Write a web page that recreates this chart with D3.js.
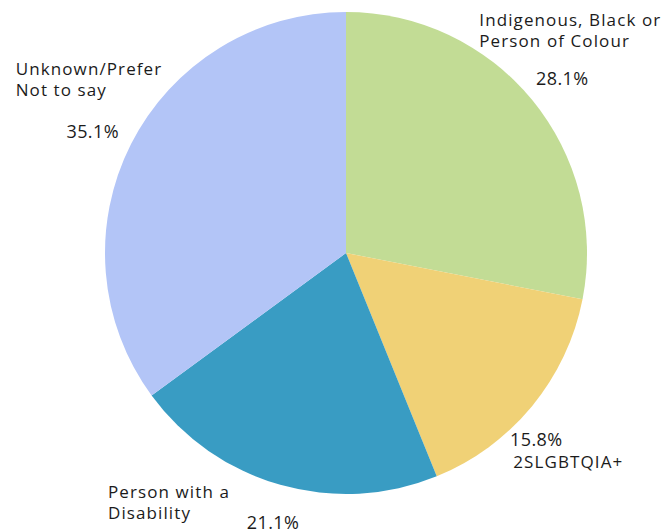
<!DOCTYPE html>
<html>
<head>
<meta charset="utf-8">
<script src="https://cdn.jsdelivr.net/npm/d3@7"></script>
<style>
  body { margin: 0; background: #fff; }
  text { font-family: "Open Sans", sans-serif; fill: #1b1b1b; }
</style>
</head>
<body>
<div class="pie"></div>
<script>
// data
const categories = ["Indigenous, Black or Person of Colour", "2SLGBTQIA+", "Person with a Disability", "Unknown/Prefer Not to say"];
const values = [28.1, 15.8, 21.1, 35.1];
const labelLines = [["Indigenous, Black or", "Person of Colour"], ["2SLGBTQIA+"], ["Person with a", "Disability"], ["Unknown/Prefer", "Not to say"]];
const colors = ["#c2dc95", "#f0d176", "#399cc3", "#b3c5f7"];

const width = 671;
const height = 529;
const cx = 346, cy = 253, radius = 241;

// label placement tweaks (percent offset from label arc, name block offset from percent)
const pctShift = [[4, 0], [-22, 12], [2, 5], [-8, 3]];
const nameShift = [[-83, -52, "start"], [-23, 28, "start"], [-165, -25, "start"], [-77, -57, "start"]];

const data = categories.map((c, i) => ({ name: c, value: values[i], lines: labelLines[i], color: colors[i], i: i }));

const svg = d3.select('.pie').append('svg')
    .attr('width', width)
    .attr('height', height);

const graph = svg.append('g')
    .attr('transform', `translate(${cx},${cy})`);

const pie = d3.pie()
    .sort(null)
    .value(d => d.value);

const arcPath = d3.arc()
    .innerRadius(0)
    .outerRadius(radius);

const labelArc = d3.arc()
    .innerRadius(275)
    .outerRadius(275);

const slices = pie(data);

graph.selectAll('path')
    .data(slices)
    .enter()
    .append('path')
    .attr('fill', d => d.data.color)
    .attr('d', arcPath);

const labels = graph.selectAll('g.label')
    .data(slices)
    .enter()
    .append('g')
    .attr('class', 'label')
    .attr('transform', d => {
        const c = labelArc.centroid(d);
        const s = pctShift[d.data.i];
        return `translate(${c[0] + s[0]},${c[1] + s[1]})`;
    });

labels.append('text')
    .attr('text-anchor', 'middle')
    .attr('dy', '0.35em')
    .attr('font-size', 18)
    .attr('letter-spacing', 0.4)
    .text(d => d.data.value.toFixed(1) + '%');

labels.each(function(d) {
    const ns = nameShift[d.data.i];
    const t = d3.select(this).append('text')
        .attr('text-anchor', ns[2])
        .attr('font-size', 17)
        .attr('letter-spacing', 1.1)
        .attr('x', ns[0])
        .attr('y', ns[1]);
    d.data.lines.forEach((line, k) => {
        t.append('tspan')
            .attr('x', ns[0])
            .attr('dy', k === 0 ? 0 : 21)
            .text(line);
    });
});
</script>
</body>
</html>
